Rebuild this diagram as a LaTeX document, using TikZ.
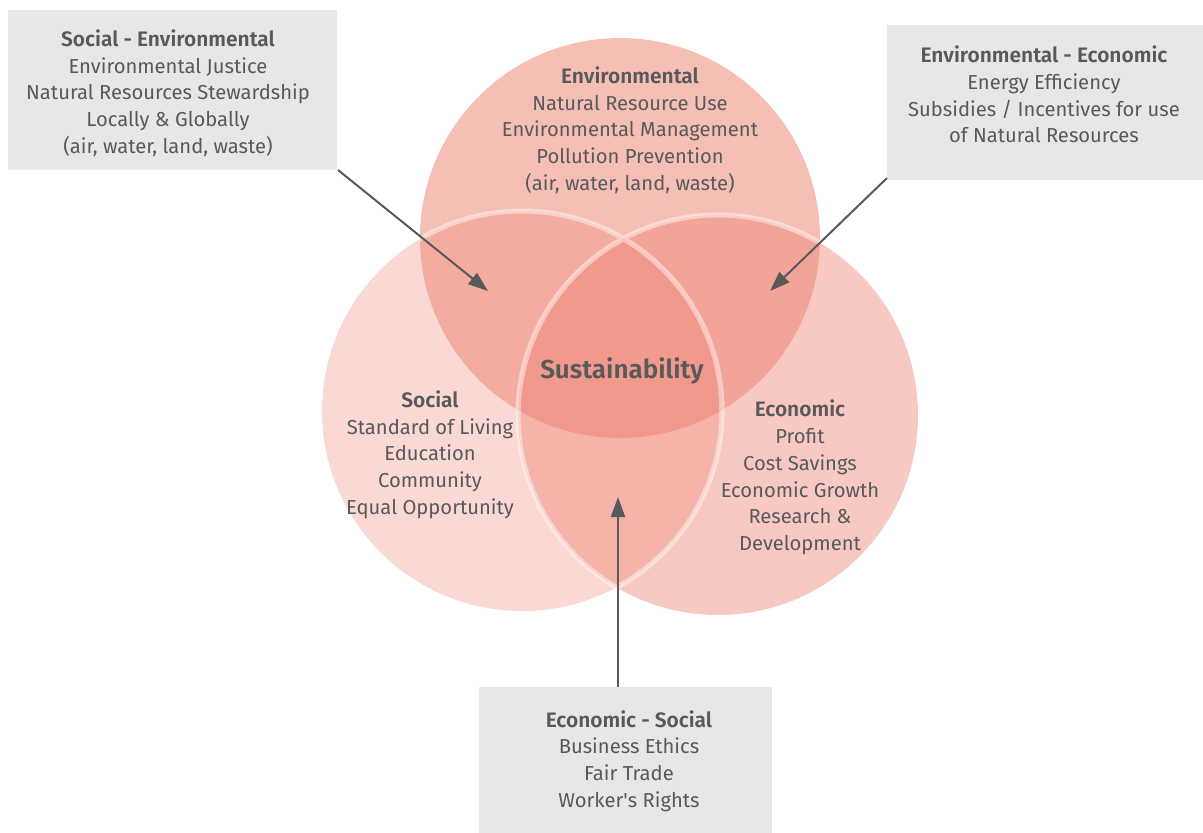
\documentclass[tikz,border=0pt]{standalone}
\usepackage{fontspec}
\setmainfont{Fira Sans}[BoldFont={Fira Sans SemiBold}]
\usetikzlibrary{arrows.meta}
\definecolor{txt}{HTML}{58595B}
\definecolor{boxgray}{HTML}{E6E7E8}
\definecolor{salmon}{HTML}{EE7F6E}
\newcommand{\hd}[1]{{\fontsize{20.9}{26.7}\selectfont\bfseries #1}}
\tikzset{
  lbl/.style={align=center, text=txt, font=\fontsize{20.2}{26.7}\selectfont, inner sep=0pt},
  graybox/.style={fill=boxgray, draw=none},
  pointer/.style={draw=txt, line width=2pt, -{Triangle[length=20pt,width=14pt]}},
}
\begin{document}
\begin{tikzpicture}[x=1pt,y=-1pt]
\useasboundingbox (0,0) rectangle (1203,833);
% circles
\coordinate (envc) at (620,238);
\coordinate (socc) at (522,411);
\coordinate (ecoc) at (718,415);
\fill[salmon, fill opacity=0.5] (envc) circle[radius=200];
\fill[salmon, fill opacity=0.3] (socc) circle[radius=200];
\fill[salmon, fill opacity=0.42] (ecoc) circle[radius=200];
\begin{scope}[transparency group, opacity=0.45]
  \begin{scope}
    \clip (envc) circle[radius=200];
    \draw[white, line width=5pt] (socc) circle[radius=200];
    \draw[white, line width=5pt] (ecoc) circle[radius=200];
  \end{scope}
  \begin{scope}
    \clip (ecoc) circle[radius=200];
    \draw[white, line width=5pt] (socc) circle[radius=200];
  \end{scope}
  \begin{scope}
    \clip (socc) circle[radius=200];
    \draw[white, line width=5pt] (ecoc) circle[radius=200];
  \end{scope}
\end{scope}
% boxes
\path[graybox] (8,10) rectangle (337,170);
\path[graybox] (887,25) rectangle (1203,180);
\path[graybox] (479,687) rectangle (772,833);
\coordinate (b1) at (338,170);
\coordinate (b2) at (887,178);
\coordinate (b3) at (618,687);
\coordinate (t1) at (488,291);
\coordinate (t2) at (770,291);
\coordinate (t3) at (618,497);
% texts
\node[lbl] (se) at (168,93) {\hd{Social - Environmental}\\Environmental Justice\\Natural Resources Stewardship\\Locally \& Globally\\(air, water, land, waste)};
\node[lbl] (ee) at (1044,94.5) {\hd{Environmental - Economic}\\Energy Efficiency\\Subsidies / Incentives for use\\of Natural Resources};
\node[lbl] (es) at (629,761) {\hd{Economic - Social}\\Business Ethics\\Fair Trade\\Worker\textquotesingle s Rights};
\node[lbl] (env) at (630,130) {\hd{Environmental}\\Natural Resource Use\\Environmental Management\\Pollution Prevention\\(air, water, land, waste)};
\node[lbl] (soc) at (430,454.5) {\hd{Social}\\Standard of Living\\Education\\Community\\Equal Opportunity};
\node[lbl] (eco) at (800,477.5) {\hd{Economic}\\Profit\\Cost Savings\\Economic Growth\\Research \&\\Development};
\node[lbl, font=\fontsize{26}{30}\selectfont\bfseries] (sus) at (622,371) {Sustainability};
% arrows
\draw[pointer] (b1) -- (t1);
\draw[pointer] (b2) -- (t2);
\draw[pointer] (b3) -- (t3);
\end{tikzpicture}
\end{document}
